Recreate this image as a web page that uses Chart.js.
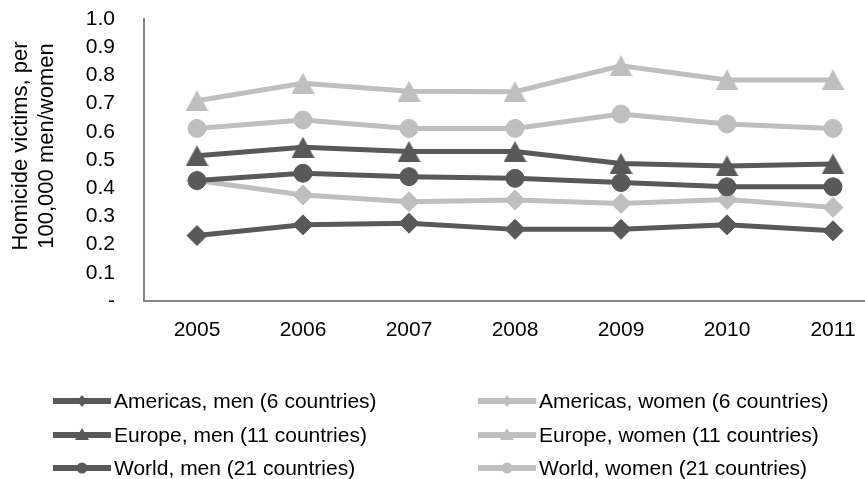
<!DOCTYPE html>
<html>
<head>
<meta charset="utf-8">
<script src="https://cdn.jsdelivr.net/npm/chart.js@4.4.1/dist/chart.umd.min.js"></script>
<style>
  html, body { margin: 0; padding: 0; background: #fff; overflow: hidden; }
  #wrap { width: 900px; height: 479px; }
</style>
</head>
<body>
<div id="wrap"><canvas id="myChart" width="900" height="479"></canvas></div>
<script>
let years = ["2005", "2006", "2007", "2008", "2009", "2010", "2011"];

let americasMen   = [0.232, 0.270, 0.276, 0.254, 0.254, 0.270, 0.249];
let americasWomen = [0.427, 0.376, 0.352, 0.358, 0.346, 0.360, 0.332];
let europeMen     = [0.515, 0.545, 0.530, 0.530, 0.488, 0.479, 0.486];
let europeWomen   = [0.710, 0.772, 0.744, 0.742, 0.834, 0.784, 0.784];
let worldMen      = [0.427, 0.453, 0.441, 0.435, 0.420, 0.405, 0.405];
let worldWomen    = [0.612, 0.642, 0.612, 0.612, 0.663, 0.628, 0.612];

let seriesNames = [
  "Americas, men (6 countries)", "Americas, women (6 countries)",
  "Europe, men (11 countries)", "Europe, women (11 countries)",
  "World, men (21 countries)", "World, women (21 countries)"
];
let yTitle = ["Homicide victims, per", "100,000 men/women"];
let yTicks = [0, 0.1, 0.2, 0.3, 0.4, 0.5, 0.6, 0.7, 0.8, 0.9, 1.0];

let dark = "#595959";
let light = "#bfbfbf";
let font = '"Liberation Sans", Arial, sans-serif';

// excel style triangle, centred on its box
function triangle(w, h, color) {
  let cv = document.createElement("canvas");
  cv.width = w; cv.height = h;
  let c = cv.getContext("2d");
  c.fillStyle = color;
  c.beginPath();
  c.moveTo(w / 2, 0);
  c.lineTo(w, h);
  c.lineTo(0, h);
  c.closePath();
  c.fill();
  return cv;
}

function serie(label, data, color, shape, idx) {
  let style = shape, radius = 9;
  if (shape == "tri") { style = triangle(23, 21, color); radius = 11; }
  if (shape == "rectRot") radius = 10;
  return {
    label: label,
    data: data,
    borderColor: color,
    backgroundColor: color,
    borderWidth: 5,
    pointStyle: style,
    pointRadius: radius,
    pointHoverRadius: radius,
    pointBorderColor: color,
    pointBackgroundColor: color,
    pointBorderWidth: 1,
    tension: 0,
    order: 5 - idx,
    shape: shape
  };
}

let datasets = [
  serie(seriesNames[0], americasMen, dark, "rectRot", 0),
  serie(seriesNames[1], americasWomen, light, "rectRot", 1),
  serie(seriesNames[2], europeMen, dark, "tri", 2),
  serie(seriesNames[3], europeWomen, light, "tri", 3),
  serie(seriesNames[4], worldMen, dark, "circle", 4),
  serie(seriesNames[5], worldWomen, light, "circle", 5)
];

// y title + two column legend
let extras = {
  id: "extras",
  afterDraw(chart) {
    let c = chart.ctx;
    c.save();
    c.fillStyle = "#000";
    c.font = "22px " + font;
    c.textAlign = "center";
    c.textBaseline = "middle";
    c.translate(0, 146);
    c.rotate(-Math.PI / 2);
    c.fillText(yTitle[0], 0, 21);
    c.fillText(yTitle[1], 0, 47);
    c.restore();

    let rows = [401, 435, 468];
    chart.data.datasets.forEach((ds, i) => {
      let x = i % 2 ? 478 : 53;
      let y = rows[Math.floor(i / 2)];
      let mx = x + 29;
      c.save();
      c.strokeStyle = ds.borderColor;
      c.fillStyle = ds.borderColor;
      c.lineWidth = 6;
      c.beginPath();
      c.moveTo(x, y);
      c.lineTo(x + 58, y);
      c.stroke();
      c.beginPath();
      if (ds.shape == "rectRot") {
        c.moveTo(mx - 5, y); c.lineTo(mx, y - 6); c.lineTo(mx + 5, y); c.lineTo(mx, y + 6);
      } else if (ds.shape == "tri") {
        c.moveTo(mx, y - 7); c.lineTo(mx + 7, y + 5); c.lineTo(mx - 7, y + 5);
      } else {
        c.arc(mx, y, 5.5, 0, Math.PI * 2);
      }
      c.closePath();
      c.fill();
      c.fillStyle = "#000";
      c.font = "21px " + font;
      c.textAlign = "left";
      c.textBaseline = "middle";
      c.fillText(ds.label, x + 61, y + 1);
      c.restore();
    });
  }
};

let ctx = document.getElementById("myChart");

let chartt = new Chart(ctx, {
  type: "line",
  data: { labels: years, datasets: datasets },
  plugins: [extras],
  options: {
    responsive: false,
    animation: false,
    events: [],
    layout: { autoPadding: false, padding: { top: 19, right: 14, bottom: 130, left: 0 } },
    plugins: {
      legend: { display: false },
      tooltip: { enabled: false }
    },
    scales: {
      x: {
        offset: true,
        grid: { display: false, drawTicks: false },
        border: { display: true, color: "#868686", width: 2 },
        ticks: { color: "#000", padding: 17, font: { family: font, size: 21 }, maxRotation: 0 },
        afterFit: (s) => { s.height = 48; s.paddingLeft = 0; s.paddingRight = 0; }
      },
      y: {
        min: 0,
        max: 1,
        afterBuildTicks: (s) => { s.ticks = yTicks.map(v => ({ value: v })); },
        grid: { display: false, drawTicks: false },
        border: { display: true, color: "#868686", width: 2 },
        ticks: {
          color: "#000",
          padding: 29,
          autoSkip: false,
          font: { family: font, size: 21 },
          callback: (v) => v == 0 ? "-" : v.toFixed(1)
        },
        afterFit: (s) => { s.width = 144; s.paddingTop = 0; s.paddingBottom = 0; }
      }
    }
  }
});
</script>
</body>
</html>
